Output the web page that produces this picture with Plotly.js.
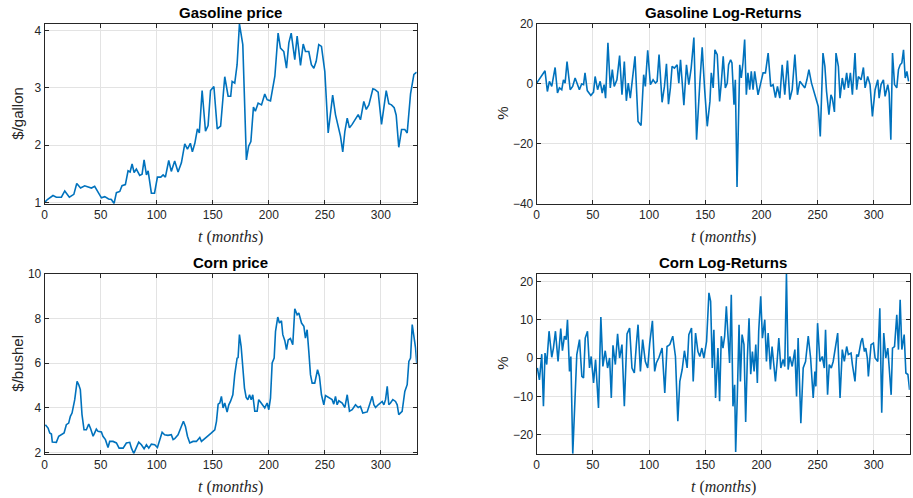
<!DOCTYPE html>
<html>
<head>
<meta charset="utf-8">
<script src="https://cdn.plot.ly/plotly-3.0.1.min.js"></script>
<style>html,body{margin:0;padding:0;background:#fff;}#chart{width:913px;height:498px;}</style>
</head>
<body>
<div id="chart"></div>
<script>
// ---- Data ----
const gasT = [0,2.4,7.4,10.4,14.9,17.9,22,26,28.6,32,35.7,41.7,44.6,47.6,50.6,53.6,57,59.5,61.9,64,67,69,72,74.4,76.2,78,79.8,81.8,84.8,86.9,88.7,90.8,92.3,95.2,98,100.6,103.6,105.7,107.7,110.7,113,116,119,122,125,127.4,130,131.8,134,136.3,138,140.5,143.5,145.8,148,151,154,157,160.7,163.7,166,167.3,169.6,171.7,173.8,176.8,178.6,180,182,184,186.3,188,190.5,193.5,196.4,198.5,201.5,205.4,208.3,210.4,213.4,215.8,217.9,220,223.2,225.3,228.3,230.7,232.7,235.7,238,240.2,242.3,244.6,247,250,253,255,257,259.5,261.9,264,266,267.9,270,272,274.4,276.8,279.8,281.8,284.8,287,289.3,292.9,294.6,297.6,300.6,302.7,304.8,307.1,309.5,311.9,313.7,316,318.5,321.4,323.5,326.5,329.5,332];
const gasP = [1.00,1.05,1.12,1.09,1.09,1.20,1.09,1.14,1.33,1.25,1.29,1.25,1.28,1.19,1.08,1.10,1.06,1.05,0.98,1.17,1.19,1.29,1.31,1.55,1.53,1.67,1.52,1.58,1.47,1.49,1.74,1.48,1.55,1.16,1.16,1.44,1.44,1.48,1.44,1.73,1.54,1.72,1.53,1.69,2.02,1.93,2.03,1.88,2.03,2.28,2.21,2.95,2.24,2.34,2.95,3.02,2.28,2.33,3.19,2.85,2.85,3.11,3.08,3.40,4.11,3.75,2.59,1.74,1.98,2.06,2.66,2.59,2.73,2.70,2.89,2.79,2.77,3.20,3.95,3.69,3.63,3.34,3.78,3.95,3.49,3.90,3.39,3.76,3.63,3.63,3.40,3.34,3.46,3.75,3.72,3.28,2.21,2.56,2.87,2.53,2.33,2.15,1.88,2.24,2.47,2.30,2.36,2.44,2.53,2.44,2.76,2.62,2.70,2.98,2.97,2.92,2.36,2.65,2.95,2.72,2.70,2.65,2.52,1.96,2.27,2.27,2.21,2.89,3.23,3.27];

const gasRetT = [0,3,5.4,7.4,9.5,11.3,13.4,16.4,18.5,20.2,22.3,23.8,25.3,27,29.8,32,34.2,35.7,38,40,41.7,43,45,48.2,50.6,52,54.2,56.5,58.3,60,61.3,63.4,65.5,67.3,69,71.4,73.8,75.9,78,79.8,81.5,83.3,85.1,87.5,90.2,92.9,95.2,96.7,98.8,101.2,103.6,105.7,107.2,108.9,111.6,113.7,115.5,117.3,119,120.5,122.6,125,126.5,128,131,133.3,135.4,137.5,139.9,142.3,145.2,147.3,149.4,151.8,154.2,155.4,157.1,158.6,160.7,162.8,164.3,166,167.9,169.6,170.8,172.6,173.8,175.6,176.8,178.3,180.7,182.1,183.6,185.1,186.6,188,189.6,191,192.6,194,195.5,197,199.4,201.5,203.6,206,208.3,210.4,212.5,214.3,216.4,218.5,220.8,223.2,225.3,227.4,229.8,232.1,234.2,236.3,238.7,240.5,242.3,244.6,247.6,250.6,252.4,254.8,256.5,258,260.1,261.9,263.1,265,266.4,268.5,270,272,273.8,275.9,277.4,279.2,281,283.3,284.8,286.3,288.7,290.8,292.3,294.6,296.7,298.8,301.2,303.6,304.8,306.5,308.6,310.1,312.5,313.7,315.2,316.7,318.5,320.5,322,323.5,325,326.5,328,329.5,331];
const gasRet = [0.2,1.9,3,4.3,-2.6,0.8,-0.9,5.4,-3.1,-1.4,-2,1.3,0.2,7.4,-2,-0.9,1.9,0.2,-2,-0.1,-0.3,3.6,-2.3,-3.9,-2.8,2.4,-2,0.8,-3.1,-0.3,-4.8,13.6,-1.4,4.7,-0.9,1.3,9.4,-3.7,7.4,-5.7,0.2,-4.8,1.3,9.1,-12.6,-13.9,3,-0.9,11.1,-0.3,1.3,0.2,0.8,9.7,-6.2,-0.9,6.6,-6.8,-1.4,5.8,5.2,6.3,0.2,8,-7.2,6.3,-0.3,5.2,15.4,-18.7,0.2,12.1,-1.4,-14.2,-5.9,3.6,-1.4,11.3,9.7,-5.9,0.2,9.1,-1.4,0.2,6.3,8,6.9,-7,1.3,-34.4,6.3,1.9,6.9,14.7,-3.7,3.6,-2,4.1,-2,4.1,0.2,-3.7,0.2,3.6,3.6,10.2,-0.9,-0.3,-4.6,-0.9,-4.8,6.3,-3.7,7.7,-5.3,-2,9.7,-3.7,0.8,-0.3,-1.4,1.3,4.7,0.2,-3.7,-7.6,-17.6,10.2,5.8,-2.6,-10.3,-3.7,-4.8,-9.4,10.2,5.8,-4.8,1.9,-2,3.6,-1.4,3.6,-3.7,10.2,-2,2.4,1.3,5.4,-1.4,2.4,-0.3,-10.9,-2,1.3,-4.8,-0.3,1.3,-4.2,-0.3,-3.1,-18.7,10.2,-0.3,-1.4,4.7,6.3,6.9,11.3,1.9,4.1,0.8];

const cornT = [0.6,3,4.5,6,6.8,10.4,12.5,14.9,17.3,19.3,21.4,22.9,24.4,26.8,28.9,30.4,31.8,33.3,35.1,37.2,39.3,41,43.2,44.6,46.1,47.6,50.6,52,54.2,56.5,58,61,64,66.4,70,72.9,75.9,77.4,79.5,81,83.9,86.3,88.7,90.8,92.9,95.2,98.2,100.6,102.4,104.8,107,110,113,114.6,116,119,121.4,123.8,125.6,127.4,129.5,132.4,135.4,138.4,139.9,142.9,145.2,148.8,151.8,153.3,154.8,156.3,157.7,159.2,160.7,162.8,164.3,165.8,167.9,169.6,171.7,172.6,173.8,175.3,176.8,178.3,179.8,181.3,182.8,184.3,185.7,187.5,189.6,191,193.2,194.6,196.4,198.5,200,201.5,203,204.8,206,208,209.5,211.3,212.5,214.3,215.8,217.3,219.3,221.4,223.2,225.3,226.8,229.2,231.3,232.7,234.2,235.7,237.2,238.7,241,243.5,245.2,247,249.1,250.6,253.6,256.5,258,259.5,261,262.5,265.5,267.9,270,272,274.4,277.4,279.8,281.8,283.9,287.8,289.9,292.3,293.8,295.3,297.6,299.7,301.2,302.7,304.2,305.7,307.1,308.6,310.7,313.1,314.6,316,317.6,319,321.4,323.5,325,326.5,328,329.5,331,332];
const cornP = [3.24,3.09,2.87,2.82,2.46,2.45,2.72,2.79,2.87,3.24,3.31,3.61,3.76,4.36,5.18,5.03,4.81,3.69,3.01,3.01,3.27,3.06,2.72,2.87,3.04,2.94,2.91,2.72,2.57,2.22,2.49,2.49,2.42,2.19,2.19,2.42,2.45,2.19,1.95,2.12,2.46,2.34,2.16,2.34,2.19,2.37,2.34,2.22,2.49,2.90,2.79,2.76,2.79,2.57,2.61,2.79,3.09,3.39,3.16,2.72,2.42,2.49,2.49,2.67,2.49,2.60,2.72,2.87,3.01,3.39,4.16,4.21,4.51,3.99,4.21,3.80,4.13,4.28,4.58,5.48,6.22,6.25,7.27,6.75,5.93,4.88,4.46,4.36,4.58,4.36,4.58,3.84,3.84,4.36,4.21,4.13,3.99,4.21,3.91,4.43,6.00,6.22,7.42,8.06,7.79,7.89,7.27,7.00,6.60,7.03,7.10,6.82,8.43,8.16,8.24,7.79,7.64,7.12,7.49,6.52,5.48,5.10,5.10,5.70,5.40,4.58,4.13,4.54,4.43,4.36,4.16,4.51,4.13,4.31,4.21,4.01,4.58,3.84,3.91,4.13,4.01,4.06,3.76,3.81,4.13,4.51,4.13,4.01,4.13,4.21,4.28,4.13,4.36,4.96,4.13,4.21,4.36,4.28,4.13,3.69,3.76,3.84,4.73,5.03,6.07,6.22,7.72,7.27,6.67,6.00];

const cornRetT = [0.6,2.4,4.5,6,7.4,8.9,11,13.4,14.9,16.7,19,21.4,22.9,24.7,26.2,27.4,29.2,30.4,32.1,34.2,35.7,38.1,40.2,41.7,43.2,45.2,47,48.5,50.6,52.4,55,57.1,58.9,61,63.1,64.9,66.4,67.9,70,72,73.8,75.9,78,80.4,82.7,84.8,86.9,88.7,90.2,92.3,94.3,96.7,98.8,100.6,103,105,106.5,108.9,111.6,114,116,118.5,121.1,123.5,125.6,127.4,129.5,131.5,133.9,135.4,137.8,139.3,141.4,143.5,145.2,147,148.8,151.2,153.3,154.8,156.3,157.7,159.2,161.3,162.8,164.3,165.8,167.3,168.8,170.2,171.7,173.2,174.7,176.2,177.1,178.6,180.1,181.3,182.8,184.5,186,187.5,189,190.5,192,193.5,195,196.4,197.6,199.4,200.9,203,204.5,206,208,209.5,211.3,212.5,214,215.5,217.3,219.3,220.8,222.3,223.8,225.3,227.4,229.8,231.3,232.7,235.1,237.2,239.3,241.7,243.8,246.1,247.6,248.5,250,252.1,254.2,256,257.1,258.9,260.4,262.2,263.9,266,267.9,270,272,273.8,275.9,277.4,279.8,281,283.3,284.8,286.3,288.7,289.9,291.7,292.9,294.3,295.2,297.6,299.7,301.2,303.6,305.4,307.1,308.9,310.7,312.5,313.7,315.5,316.7,318.5,320.5,322,323.5,325,327.1,328.6,330.4,331.9];
const cornRet = [-2.6,-5.7,1,-12.6,1.3,-1.7,7,0.2,2.6,7,-0.9,7.7,1.9,5.7,4.8,10,-3.5,0.4,-25,-11.3,0.9,4.8,-4.8,-5.2,5.2,7,-2.6,0.4,-6.5,-0.4,-13,10.7,-2.2,1.9,-2.6,0,-10.4,3.3,-1.7,6.3,0,3.5,-12.6,6.3,7.8,-2.6,-3.9,3.5,8.7,-3.5,4.8,-0.9,-2.6,3.9,9.7,-3.5,-1.3,0.2,2.6,-9.1,3,3.5,5.7,0.4,-16.5,-6.1,-3,1.9,-2.6,6.1,7.8,-6.1,6.5,1.7,0.4,2.6,0,4.3,17,14.8,-2.6,7.4,-10.4,2.6,-11.3,5.7,2.6,5.7,13.5,6.1,-1.3,16.5,-12.6,-7,-24.5,-9.6,8.7,-6.1,6.1,3.5,-16.7,0,10.4,-4.2,1.7,-3.5,3.5,-6.5,7,16.1,5.2,10,-0.9,6.5,-3,3,-2.6,-6.1,-0.9,5.2,-2.6,-0.4,-2.2,22,-3,0.4,-2.2,2.2,-10,5.2,-17,-2.6,-0.9,5.7,0,-10.4,-3.5,-7.4,9.1,-0.9,0.4,-2.6,7.4,-9.6,-1.7,-2.6,-0.9,2.6,6.5,-10.4,2.2,-0.9,3,0.9,1.3,-1.7,-6.1,0.9,0.4,4.3,5.2,1.7,2.6,0,-4.8,3.5,3.9,0,-0.9,13,-14.3,6.5,0,2.6,-1.7,-9.6,2.6,3,11.3,2.2,15.2,2.2,6.1,-3.9,-4.3,-8.3];

const xTicks = [0,50,100,150,200,250,300];
const titles = ['Gasoline price','Gasoline Log-Returns','Corn price','Corn Log-Returns'];
const yTitles = ['$/gallon','%','$/bushel','%'];
const xTitle = '<i>t</i> (<i>months</i>)';

// ---- Layout geometry ----
const W = 913, H = 498;
const colX = [[44.7,416.7],[536.7,909.7]];
const rowY = [[23.7,203.7],[273.7,453.7]];
const lineColor = '#0072BD';
const axCol = '#262626';

function dom(a,b,tot){return [a/tot,b/tot];}
function ydom(top,bot){return [1-bot/H,1-top/H];}

const traces = [
  {x:gasT,y:gasP,xaxis:'x',yaxis:'y'},
  {x:gasRetT,y:gasRet,xaxis:'x2',yaxis:'y2'},
  {x:cornT,y:cornP,xaxis:'x3',yaxis:'y3'},
  {x:cornRetT,y:cornRet,xaxis:'x4',yaxis:'y4'}
].map(t=>Object.assign(t,{type:'scatter',mode:'lines',line:{color:lineColor,width:1.6},hoverinfo:'skip'}));

const common = {
  showline:true, mirror:'ticks', linecolor:axCol, linewidth:1,
  ticks:'inside', ticklen:4, tickcolor:axCol, tickwidth:1,
  showgrid:true, gridcolor:'#e3e3e3', gridwidth:1, zeroline:false,
  tickfont:{family:'Liberation Sans, Arial, sans-serif', size:12, color:axCol}
};
const yRanges = [[0.977,4.115],[-40,20],[1.94,10.0],[-24.96,22.0]];
const yTickVals = [[1,2,3,4],[-40,-20,0,20],[2,4,6,8,10],[-20,-10,0,10,20]];

const layout = {width:W,height:H,margin:{l:0,r:0,t:0,b:0},paper_bgcolor:'#fff',plot_bgcolor:'#fff',showlegend:false,annotations:[]};
for(let i=0;i<4;i++){
  const c=i%2, r=Math.floor(i/2);
  const xs = i===0?'':String(i+1);
  layout['xaxis'+xs] = Object.assign({},common,{domain:dom(colX[c][0],colX[c][1],W),range:[0,332],tickvals:xTicks,anchor:'y'+xs});
  layout['yaxis'+xs] = Object.assign({},common,{domain:ydom(rowY[r][0],rowY[r][1]),range:yRanges[i],tickvals:yTickVals[i],anchor:'x'+xs});
  const cx = (colX[c][0]+colX[c][1])/2/W;
  layout.annotations.push({text:'<b>'+titles[i]+'</b>',xref:'paper',yref:'paper',x:cx,y:1-(rowY[r][0]-11.5)/H,xanchor:'center',yanchor:'middle',showarrow:false,font:{family:'Liberation Sans, Arial, sans-serif',size:15,color:'#000'}});
  layout.annotations.push({text:xTitle,xref:'paper',yref:'paper',x:cx,y:1-(rowY[r][1]+33.5)/H,xanchor:'center',yanchor:'middle',showarrow:false,font:{family:'Liberation Serif, Times New Roman, serif',size:16,color:axCol}});
  const yx = c===0?18:503;
  layout.annotations.push({text:yTitles[i],xref:'paper',yref:'paper',x:yx/W,y:1-(rowY[r][0]+rowY[r][1])/2/H,xanchor:'center',yanchor:'middle',textangle:-90,showarrow:false,font:{family:'Liberation Sans, Arial, sans-serif',size:15,color:axCol}});
}

Plotly.newPlot('chart',traces,layout,{displayModeBar:false,staticPlot:true});
</script>
</body>
</html>
